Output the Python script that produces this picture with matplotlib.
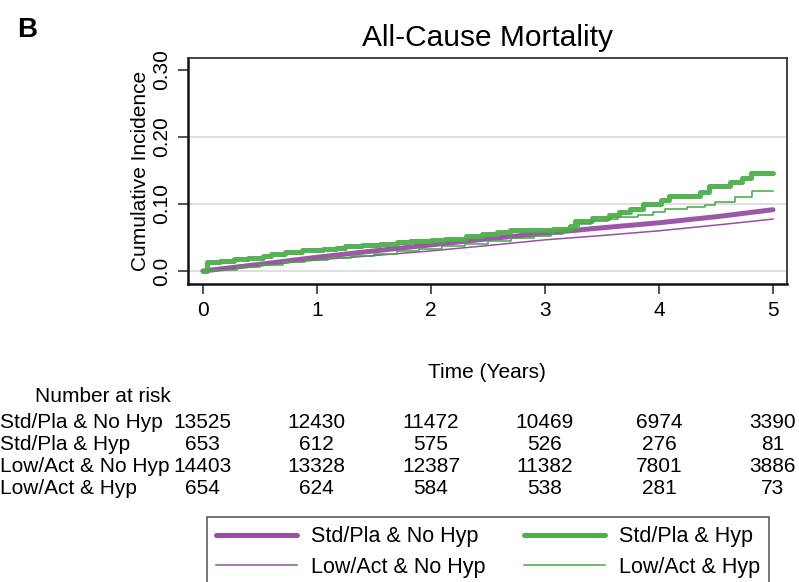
import matplotlib
matplotlib.use("Agg")

import matplotlib.pyplot as plt
from matplotlib.transforms import blended_transform_factory

plt.rcParams['font.family'] = ['Liberation Sans', 'DejaVu Sans']

# cumulative incidence
t_std_nohyp = [0, 0.5, 1, 1.5, 2, 2.5, 3, 3.5, 4, 4.5, 5]
y_std_nohyp = [0, 0.010, 0.0205, 0.030, 0.039, 0.048, 0.0565, 0.0645, 0.072, 0.081, 0.0915]

t_low_nohyp = [0, 0.5, 1, 1.5, 2, 2.5, 3, 3.5, 4, 4.5, 5]
y_low_nohyp = [0, 0.0085, 0.0165, 0.023, 0.030, 0.038, 0.0465, 0.053, 0.060, 0.0685, 0.0775]

t_std_hyp = [0, 0.04, 0.15, 0.27, 0.40, 0.53, 0.60, 0.72, 0.87, 1.05, 1.17, 1.25, 1.40,
             1.55, 1.70, 1.82, 2.00, 2.12, 2.31, 2.45, 2.58, 2.69, 3.07, 3.22, 3.26,
             3.41, 3.56, 3.65, 3.75, 3.86, 4.02, 4.09, 4.36, 4.44, 4.62, 4.73, 4.81, 5.0]
y_std_hyp = [0, 0.0135, 0.0155, 0.018, 0.020, 0.0225, 0.0255, 0.028, 0.031, 0.033, 0.0345, 0.037, 0.039,
             0.041, 0.043, 0.045, 0.0465, 0.0485, 0.052, 0.055, 0.0585, 0.0615, 0.0625, 0.0665, 0.0745,
             0.079, 0.0835, 0.0875, 0.0925, 0.0995, 0.1065, 0.1115, 0.1175, 0.127, 0.1325, 0.139, 0.1465, 0.1465]

t_low_hyp = [0, 0.1, 0.3, 0.5, 0.7, 0.9, 1.1, 1.3, 1.5, 1.7, 1.9, 2.1, 2.3, 2.5, 2.7, 2.9, 3.05, 3.16,
             3.22, 3.3, 3.4, 3.55, 3.64, 3.82, 3.95, 4.05, 4.25, 4.4, 4.49, 4.67, 4.82, 5.0]
y_low_hyp = [0, 0.002, 0.006, 0.009, 0.013, 0.016, 0.019, 0.023, 0.026, 0.030, 0.033, 0.037, 0.041, 0.045,
             0.049, 0.052, 0.055, 0.058,
             0.063, 0.070, 0.074, 0.077, 0.080, 0.084, 0.088, 0.093, 0.096, 0.098, 0.103, 0.110, 0.119, 0.119]

# number at risk table
risk_times = [0, 1, 2, 3, 4, 5]
risk_groups = ["Std/Pla & No Hyp", "Std/Pla & Hyp", "Low/Act & No Hyp", "Low/Act & Hyp"]
risk_std_nohyp = [13525, 12430, 11472, 10469, 6974, 3390]
risk_std_hyp = [653, 612, 575, 526, 276, 81]
risk_low_nohyp = [14403, 13328, 12387, 11382, 7801, 3886]
risk_low_hyp = [654, 624, 584, 538, 281, 73]

purple = "#984ea3"
green = "#4daf4a"

W, H = 799, 582
fig = plt.figure(figsize=(W / 100, H / 100), dpi=100)
ax = fig.add_axes([188 / W, 1 - 284 / H, (787 - 188) / W, (284 - 58) / H])

l1, = ax.plot(t_std_nohyp, y_std_nohyp, color=purple, lw=3.6, alpha=0.95, solid_capstyle='round',
              label="Std/Pla & No Hyp")
l2, = ax.plot(t_low_nohyp, y_low_nohyp, color=purple, lw=1.1, label="Low/Act & No Hyp")
l3, = ax.plot(t_std_hyp, y_std_hyp, color=green, lw=3.6, alpha=0.95, drawstyle='steps-post',
              solid_capstyle='round', label="Std/Pla & Hyp")
l4, = ax.plot(t_low_hyp, y_low_hyp, color="#45a843", lw=1.1, drawstyle='steps-post',
              label="Low/Act & Hyp")

ax.set_xlim(-0.13, 5.123)
ax.set_ylim(-0.0194, 0.318)
ax.set_xticks(risk_times)
ax.set_yticks([0, 0.1, 0.2, 0.3])
ax.set_yticklabels(["0.0", "0.10", "0.20", "0.30"], rotation=90, va='center')
ax.tick_params(labelsize=15, length=7, width=1.2, color="#333333")
ax.tick_params(axis='y', pad=5)
ax.tick_params(axis='x', pad=5)

for y in [0, 0.1, 0.2]:
    ax.axhline(y, color="#dcdcdc", lw=1.3, zorder=0)

for side in ['left', 'bottom']:
    ax.spines[side].set_linewidth(1.8)
    ax.spines[side].set_color("#111111")
for side in ['top', 'right']:
    ax.spines[side].set_linewidth(1.3)
    ax.spines[side].set_color("#333333")

ax.set_ylabel("Cumulative Incidence", fontsize=15, labelpad=2)
ax.set_title("All-Cause Mortality", fontsize=21.5, pad=9)

fig.text(17 / W, 1 - 30 / H, "B", fontsize=20, fontweight='bold', va='center', ha='left')

# x axis title and number-at-risk table
fig.text(487 / W, 1 - 373 / H, "Time (Years)", fontsize=15, ha='center', va='center')
fig.text(35 / W, 1 - 397 / H, "Number at risk", fontsize=15, ha='left', va='center')

tr = blended_transform_factory(ax.transData, fig.transFigure)
rows = [risk_std_nohyp, risk_std_hyp, risk_low_nohyp, risk_low_hyp]
for i, (name, vals) in enumerate(zip(risk_groups, rows)):
    yy = 1 - (422 + 22 * i) / H
    fig.text(0.0, yy, name, fontsize=15, ha='left', va='center')
    for t, v in zip(risk_times, vals):
        ax.text(t, yy, str(v), transform=tr, fontsize=15, ha='center', va='center',
                clip_on=False)

leg = fig.legend(handles=[l1, l2, l3, l4], loc='upper left',
                 bbox_to_anchor=(207 / W, 1 - 517 / H), ncol=2, fontsize=15.5,
                 frameon=True, fancybox=False, edgecolor="#333333",
                 handlelength=3.75, handletextpad=0.65, columnspacing=1.8,
                 labelspacing=0.45, borderpad=0.42, borderaxespad=0)
leg.get_frame().set_linewidth(1.2)
for h in leg.legend_handles:
    h.set_alpha(1)

fig.savefig("out.png", dpi=100)
